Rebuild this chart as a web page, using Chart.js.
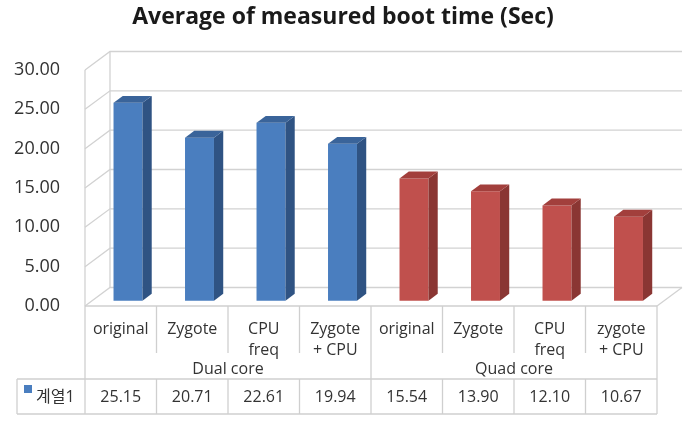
<!DOCTYPE html>
<html lang="ko">
<head>
  <meta charset="UTF-8">
  <title>Average of measured boot time (Sec)</title>
  <script src="https://cdn.jsdelivr.net/npm/chart.js"></script>
  <style>
    html, body { margin: 0; padding: 0; background: #fff; }
    #wrap { width: 686px; height: 435px; }
  </style>
</head>
<body>
  <div id="wrap"><canvas id="bootChart" width="686" height="435"></canvas></div>

  <script>
    const categories = [['original'], ['Zygote'], ['CPU', 'freq'], ['Zygote', '+ CPU'],
                        ['original'], ['Zygote'], ['CPU', 'freq'], ['zygote', '+ CPU']];
    const groups = ['Dual core', 'Quad core'];
    const groupSize = 4;
    const seriesName = '계열1';
    const bootTimes = [25.15, 20.71, 22.61, 19.94, 15.54, 13.90, 12.10, 10.67];
    const yTicks = [0, 5, 10, 15, 20, 25, 30];

    const FONT = "'Open Sans', 'Noto Sans CJK KR', sans-serif";
    const front = ['#4a7ebf', '#c0504d'];
    const side = ['#2f5383', '#8a3633'];
    const top_ = ['#3a649a', '#a23f3c'];
    const colorOf = (arr) => bootTimes.map((v, i) => arr[i < groupSize ? 0 : 1]);

    // 3d box depth (px) and where the bars sit inside it
    const DX = 25, DY = -18.5;
    const BAR_Z = 0.29, BAR_D = 0.37;

    function line(ctx, x1, y1, x2, y2) {
      ctx.beginPath(); ctx.moveTo(x1, y1); ctx.lineTo(x2, y2); ctx.stroke();
    }

    const box3d = {
      id: 'box3d',
      beforeDatasetsDraw(chart) {
        const { ctx, chartArea: a, scales: { y } } = chart;
        ctx.save();
        ctx.strokeStyle = '#d2d2d2';
        ctx.lineWidth = 1.3;
        yTicks.forEach(v => {
          const py = y.getPixelForValue(v);
          ctx.beginPath();
          ctx.moveTo(a.left, py);
          ctx.lineTo(a.left + DX, py + DY);
          ctx.lineTo(a.right + DX, py + DY);
          ctx.stroke();
        });
        line(ctx, a.left, a.top, a.left, a.bottom);
        line(ctx, a.left + DX, a.top + DY, a.left + DX, a.bottom + DY);
        line(ctx, a.right, a.bottom, a.right + DX, a.bottom + DY);
        ctx.restore();
      },
      beforeDatasetDraw(chart) {
        chart.ctx.save();
        chart.ctx.translate(DX * BAR_Z, DY * BAR_Z);
      },
      afterDatasetDraw(chart, args) {
        const ctx = chart.ctx;
        const sides = colorOf(side), tops = colorOf(top_);
        const ox = DX * BAR_D, oy = DY * BAR_D;
        args.meta.data.forEach((bar, i) => {
          const { x, y, base, width } = bar.getProps(['x', 'y', 'base', 'width'], true);
          const l = x - width / 2, r = x + width / 2;
          ctx.fillStyle = sides[i];
          ctx.beginPath();
          ctx.moveTo(r, y); ctx.lineTo(r + ox, y + oy); ctx.lineTo(r + ox, base + oy); ctx.lineTo(r, base);
          ctx.closePath(); ctx.fill();
          ctx.fillStyle = tops[i];
          ctx.beginPath();
          ctx.moveTo(l, y); ctx.lineTo(l + ox, y + oy); ctx.lineTo(r + ox, y + oy); ctx.lineTo(r, y);
          ctx.closePath(); ctx.fill();
        });
        ctx.restore();
      },
      afterDraw(chart) {
        // data table under the plot
        const { ctx, chartArea: a, scales: { x } } = chart;
        const n = bootTimes.length;
        const colW = (a.right - a.left) / n;
        const edge = i => a.left + i * colW;
        const labelBottom = a.bottom + 47, rowTop = a.bottom + 73, rowBottom = a.bottom + 108;
        const tableLeft = 17;
        ctx.save();
        ctx.strokeStyle = '#cfcfcf';
        ctx.lineWidth = 1.3;
        line(ctx, a.left, a.bottom, a.right, a.bottom);
        line(ctx, tableLeft, rowTop, a.right, rowTop);
        line(ctx, tableLeft, rowBottom, a.right, rowBottom);
        line(ctx, tableLeft, rowTop, tableLeft, rowBottom);
        for (let i = 0; i <= n; i++) {
          const ex = edge(i);
          if (i % groupSize === 0) {
            line(ctx, ex, a.bottom, ex, rowBottom);
          } else {
            line(ctx, ex, a.bottom, ex, labelBottom);
            line(ctx, ex, rowTop, ex, rowBottom);
          }
        }
        ctx.fillStyle = '#333';
        ctx.font = `16px ${FONT}`;
        ctx.textAlign = 'center';
        ctx.textBaseline = 'middle';
        groups.forEach((g, gi) => {
          const cx = (edge(gi * groupSize) + edge((gi + 1) * groupSize)) / 2;
          ctx.fillText(g, cx, a.bottom + 63);
        });
        bootTimes.forEach((v, i) => {
          ctx.fillText(v.toFixed(2), x.getPixelForValue(i) , (rowTop + rowBottom) / 2 + 1);
        });
        ctx.fillStyle = front[0];
        ctx.fillRect(24, 385, 8, 8);
        ctx.fillStyle = '#333';
        ctx.textAlign = 'left';
        ctx.fillText(seriesName, 36, (rowTop + rowBottom) / 2 + 1);
        ctx.restore();
      }
    };

    new Chart(document.getElementById('bootChart'), {
      type: 'bar',
      data: {
        labels: categories,
        datasets: [{
          label: seriesName,
          data: bootTimes,
          backgroundColor: colorOf(front),
          borderWidth: 0,
          categoryPercentage: 1,
          barPercentage: 0.405,
          clip: false
        }]
      },
      options: {
        responsive: false,
        animation: false,
        layout: { padding: 0 },
        plugins: {
          legend: { display: false },
          tooltip: { enabled: false },
          title: {
            display: true,
            text: 'Average of measured boot time (Sec)',
            color: '#1a1a1a',
            font: { family: FONT, size: 23, weight: 'bold' },
            padding: { top: 4, bottom: 38.4 }
          }
        },
        scales: {
          x: {
            grid: { display: false },
            border: { display: false },
            ticks: {
              color: '#333',
              font: { family: FONT, size: 16, lineHeight: 1.3 },
              padding: 5,
              maxRotation: 0,
              autoSkip: false
            },
            afterFit(scale) { scale.height = 129; }
          },
          y: {
            min: 0,
            max: 30,
            grid: { display: false, drawTicks: false },
            border: { display: false },
            afterBuildTicks(scale) { scale.ticks = yTicks.map(v => ({ value: v })); },
            ticks: {
              color: '#333',
              font: { family: FONT, size: 18 },
              padding: 25,
              callback: v => Number(v).toFixed(2)
            },
            afterFit(scale) { scale.width = 85; }
          },
          // empty right-hand strip: room for the depth of the box
          depth: {
            position: 'right',
            grid: { display: false },
            border: { display: false },
            ticks: { display: false },
            afterFit(scale) { scale.width = 29; }
          }
        }
      },
      plugins: [box3d]
    });
  </script>
</body>
</html>
